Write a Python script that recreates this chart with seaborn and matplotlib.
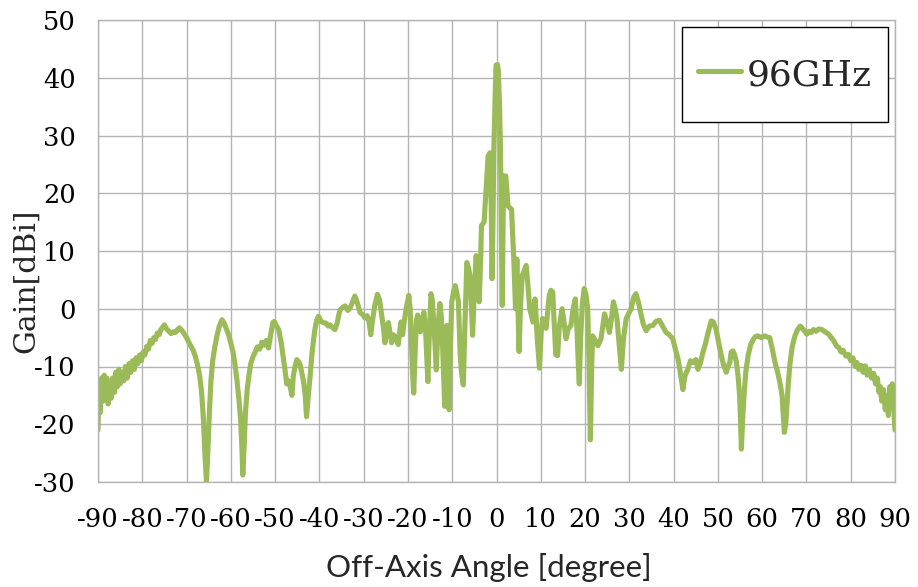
import matplotlib
matplotlib.use("Agg")
import matplotlib.pyplot as plt
import seaborn as sns
import pandas as pd

angles = [
    -90.0, -89.8, -89.5, -89.2, -88.9, -88.6, -88.3, -88.0, -87.7, -87.4, -87.0, -86.7, -86.3, -86.0,
    -85.6, -85.3, -85.0, -84.6, -84.2, -83.8, -83.4, -83.0, -82.6, -82.2, -81.8, -81.4, -81.0, -80.6,
    -80.2, -79.8, -79.4, -79.0, -78.6, -78.2, -77.8, -77.4, -77.0, -76.6, -76.2, -75.8, -75.4, -75.0,
    -74.5, -74.0, -73.5, -73.0, -72.5, -72.0, -71.6, -71.0, -70.5, -70.0, -69.5, -69.0, -68.5, -68.0,
    -67.5, -67.0, -66.6, -66.2, -65.8, -65.5, -65.2, -64.9, -64.5, -64.1, -63.6, -63.1, -62.6, -62.0,
    -61.5, -61.0, -60.5, -60.0, -59.5, -59.0, -58.6, -58.2, -57.8, -57.5, -57.3, -57.0, -56.7, -56.3,
    -55.9, -55.5, -55.0, -54.5, -54.0, -53.5, -53.0, -52.5, -52.0, -51.5, -51.0, -50.5, -50.2, -49.8,
    -49.2, -48.6, -48.1, -47.7, -47.4, -47.0, -46.6, -46.2, -45.9, -45.5, -45.1, -44.7, -44.4, -44.0,
    -43.6, -43.2, -42.9, -42.5, -42.1, -41.7, -41.4, -41.0, -40.6, -40.2, -39.6, -39.1, -38.5, -38.0,
    -37.6, -37.0, -36.5, -36.0, -35.6, -35.3, -34.8, -34.2, -33.6, -33.1, -32.6, -32.0, -31.5, -30.8,
    -30.2, -29.7, -29.2, -28.8, -28.4, -28.0, -27.5, -26.9, -26.4, -25.9, -25.5, -25.2, -24.8, -24.4,
    -24.0, -23.7, -23.3, -22.9, -22.5, -22.2, -21.6, -21.2, -20.8, -20.3, -19.8, -19.5, -19.2, -18.9,
    -18.7, -18.4, -18.1, -17.8, -17.5, -17.2, -16.8, -16.4, -16.0, -15.7, -15.5, -15.2, -14.8, -14.5,
    -14.2, -13.9, -13.6, -13.2, -12.8, -12.5, -12.3, -12.0, -11.7, -11.4, -11.2, -10.9, -10.7, -10.4,
    -10.1, -9.7, -9.3, -8.9, -8.6, -8.2, -7.9, -7.5, -7.1, -6.7, -6.3, -6.0, -5.7, -5.4,
    -5.0, -4.6, -4.2, -3.9, -3.6, -3.4, -2.8, -2.4, -1.9, -1.5, -1.2, -1.0, -0.8, -0.6,
    -0.3, -0.1, 0.2, 0.4, 0.7, 0.9, 1.1, 1.3, 1.45, 1.6, 2.1, 2.4, 2.6, 3.0,
    3.4, 3.7, 3.9, 4.3, 4.6, 4.85, 5.1, 5.4, 5.8, 6.2, 6.7, 7.1, 7.5, 8.0,
    8.2, 8.7, 9.0, 9.2, 9.7, 10.1, 10.4, 10.8, 11.2, 11.5, 11.9, 12.3, 12.7, 13.0,
    13.4, 13.8, 14.2, 14.8, 15.2, 15.7, 16.2, 16.8, 17.3, 17.8, 18.2, 18.5, 18.7, 19.0,
    19.4, 19.8, 20.2, 20.6, 20.9, 21.2, 21.5, 21.7, 22.3, 22.9, 23.6, 24.0, 24.4, 25.0,
    25.5, 26.0, 26.4, 26.8, 27.2, 27.7, 28.2, 28.7, 29.3, 30.4, 31.0, 31.5, 32.1, 32.7,
    33.2, 33.8, 34.5, 35.3, 36.0, 36.8, 37.5, 38.3, 39.0, 39.8, 40.4, 41.0, 41.5, 42.1,
    42.6, 43.2, 43.8, 44.4, 45.0, 45.5, 46.0, 46.6, 47.2, 47.8, 48.5, 49.0, 49.6, 50.2,
    50.8, 51.3, 51.9, 52.3, 52.7, 53.0, 53.4, 53.8, 54.2, 54.6, 54.9, 55.1, 55.3, 55.6,
    55.9, 56.3, 56.8, 57.4, 58.0, 58.5, 59.1, 59.8, 60.6, 61.2, 61.7, 62.3, 62.9, 63.5,
    64.0, 64.5, 64.8, 65.0, 65.3, 65.5, 65.9, 66.3, 66.8, 67.4, 68.0, 68.6, 69.0, 69.5,
    70.1, 70.6, 71.1, 71.6, 72.2, 72.8, 73.5, 74.2, 75.0, 75.6, 76.2, 76.8, 77.3, 77.8,
    78.3, 78.9, 79.5, 80.0, 80.5, 81.0, 81.4, 81.8, 82.3, 82.8, 83.3, 83.7, 84.2, 84.7,
    85.2, 85.6, 86.0, 86.4, 86.7, 87.0, 87.4, 87.8, 88.2, 88.5, 88.8, 89.1, 89.4, 89.7,
    90.0,
]

gain_96ghz = [
    -21, -14, -18, -12, -16, -11.5, -15, -12, -16.5, -13, -15.5, -12, -14.5, -11,
    -13.5, -10.5, -13, -11, -12.5, -10, -12, -9.5, -11, -9, -10.5, -8.5, -9.5, -8,
    -9, -7.5, -8, -6.5, -7, -5.5, -6, -5, -5.3, -4.2, -4.5, -3.6, -3.2, -2.8,
    -3.5, -3.9, -4.3, -4.0, -4.1, -3.6, -3.3, -3.8, -4.4, -5.0, -5.8, -6.5, -7.2, -8.3,
    -9.8, -11.8, -14.5, -19, -26, -30, -25, -19, -12.5, -9, -6.5, -4.6, -3.0, -1.9,
    -2.5, -3.5, -4.5, -6, -7.5, -10, -12.5, -15.5, -19, -24, -28.8, -24, -18, -14,
    -11.5, -9.5, -8.3, -7.5, -6.6, -7, -5.8, -6.3, -5.5, -6.8, -4.5, -2.4, -2.2, -2.8,
    -3.6, -6, -8.8, -11, -13, -12.5, -13.5, -15, -11.7, -10, -8.8, -9.2, -9.6, -11,
    -12.5, -15, -18.7, -15, -11.7, -8, -5.9, -3.5, -2, -1.3, -2.2, -2.4, -2.5, -3.0,
    -2.8, -3.3, -3.6, -2.5, -1.0, -0.2, 0.2, 0.5, -0.3, 0.1, 1.0, 2.2, 1.2, -0.7,
    -1.0, -1.6, -1.2, -2.2, -4.5, -2.0, 0.5, 2.5, 1.5, -1.3, -3.5, -5.9, -3.0, -2.4,
    -4.5, -5.9, -4.5, -4.8, -5.5, -6.2, -2.3, -4.5, -2.0, 0.5, 2.3, 0, -6, -12,
    -14.6, -8, -2, -1.1, -3, -4.0, -2, -0.6, -4, -9, -12.6, -5, 2.6, 1.5,
    -2.3, -6, -10.6, -3, 0.9, -1, -4.0, -10, -16.9, -8, -2.9, -10, -17.5, -6,
    1.2, 3, 4.0, 2.5, 1.2, -8.0, -11, -13.2, -2, 8.0, 7, 5.7, 1, -4.6,
    3, 9.2, 6, 1.2, 8, 14.4, 15, 20.1, 26.4, 27, 18, 5.2, 15, 27.5,
    37, 42.2, 42.3, 41.3, 35, 27.5, 12, 0.6, 12, 23, 23, 20, 17.8, 17.5,
    17.2, 12, 8.6, 0, 8.6, 0, -7.4, 0, 5.7, 6.5, 7.5, 4, 0, -1.5,
    -2.3, 1.7, -2, -5.2, -10.3, -4, -1.7, -3, -3.4, -1, 2.3, 3.2, 2.9, -2,
    -8.0, -8.1, -3, 0, -2, -5.2, -3.5, -2.9, 0, 1.7, -4, -10, -13, -5,
    1, 3.5, 2.5, 0, -10, -22.7, -10, -4.7, -5.5, -6.4, -5.2, -3, -0.9, -2.5,
    -4.1, -1.5, 1.2, 0, -1.7, -6, -10.5, -5, -1.7, 0, 2, 2.6, 1, -1.2,
    -2.8, -3.8, -3, -2.9, -2.2, -2.0, -3, -4.1, -4.5, -5.2, -7, -8.7, -11, -14,
    -11.5, -10.5, -9, -9.3, -8.8, -10.5, -9.5, -7.6, -6, -4.1, -2.1, -2.3, -3.6, -6,
    -8.2, -9.8, -11, -10, -9.3, -7.5, -7.3, -8, -9.3, -12, -15, -19, -24.3, -19,
    -15, -11, -8.2, -6.2, -5.3, -4.8, -4.7, -5, -4.7, -4.9, -5, -7, -9.3, -11,
    -12.8, -15, -19, -21.4, -20, -18, -13, -9.3, -6.5, -4.7, -3.6, -3.0, -3.3, -3.8,
    -4.4, -3.9, -4.1, -3.6, -3.9, -3.5, -3.6, -4.0, -4.4, -5.0, -5.6, -6.5, -6.7, -7.5,
    -7.2, -8.2, -7.9, -9.0, -8.5, -10, -9.3, -10.5, -9.8, -11, -9.9, -11.5, -10.5, -12,
    -11.2, -13, -12, -14.5, -13.5, -16, -14, -17.5, -15, -18.5, -13.5, -16, -13, -17,
    -21,
]

series_name = "96GHz"
x_ticks = list(range(-90, 91, 10))
y_ticks = list(range(-30, 51, 10))

df = pd.DataFrame({"angle": angles, "gain": gain_96ghz, "series": series_name})

sns.set_style("white")
plt.rcParams["font.family"] = ["DejaVu Serif"]

fig = plt.figure(figsize=(9.18, 5.87), dpi=100)
ax = fig.add_axes([98 / 918, 1 - 482 / 587, (895 - 98) / 918, (482 - 20) / 587])

grid_c = "#b4b4b4"
line_c = "#9BBB59"
lw = 3.7
sns.lineplot(data=df, x="angle", y="gain", hue="series", palette=[line_c],
             linewidth=lw, ax=ax, errorbar=None, sort=False)

ax.set_xlim(-90, 90)
ax.set_ylim(-30, 50)
ax.set_xticks(x_ticks)
ax.set_yticks(y_ticks)
ax.set_xticklabels([str(v) for v in x_ticks], fontsize=18.5, family="DejaVu Serif")
ax.set_yticklabels([str(v) for v in y_ticks], fontsize=18.5, family="DejaVu Serif")
ax.grid(True, color=grid_c, linewidth=1.0)
ax.set_axisbelow(True)
for s in ax.spines.values():
    s.set_color(grid_c)
    s.set_linewidth(1.0)
ax.tick_params(axis="both", which="both", length=8, width=1.0, color=grid_c,
               direction="out", pad=8, labelcolor="black")
ax.tick_params(axis="x", pad=10)

ax.set_xlabel("")
ax.set_ylabel("")
fig.text((325 + 652) / 2 / 918, 1 - 567 / 587, "Off-Axis Angle [degree]",
         ha="center", va="center", fontsize=22.5, family="Lato")
fig.text(26 / 918, 1 - 281 / 587, "Gain[dBi]", rotation=90, ha="center", va="center",
         fontsize=21.5, family="DejaVu Serif")

leg = ax.legend(loc="upper right", bbox_to_anchor=(888 / 918, 1 - 27 / 587),
                bbox_transform=fig.transFigure, borderaxespad=0, fancybox=False,
                frameon=True, handlelength=1.2, handletextpad=0.15,
                handleheight=2.3, borderpad=0.45,
                prop={"family": "DejaVu Serif", "size": 26})
leg.get_frame().set_edgecolor("black")
leg.get_frame().set_linewidth(1.0)
leg.get_frame().set_facecolor("white")
leg.get_frame().set_alpha(1.0)
for line in leg.get_lines():
    line.set_linewidth(lw)
    yd = line.get_ydata()
    line.set_ydata([v - 5 for v in yd])

fig.savefig("out.png", dpi=100)
